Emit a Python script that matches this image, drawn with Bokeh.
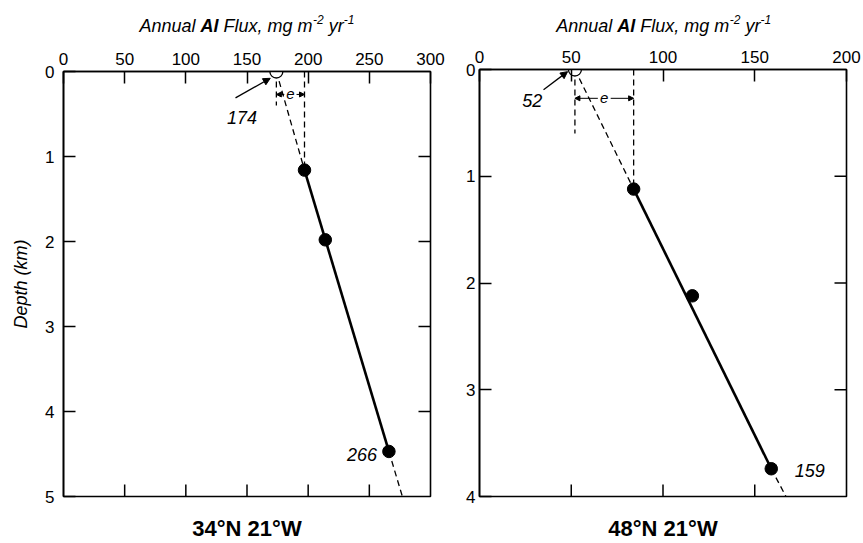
from bokeh.plotting import figure
from bokeh.models import Range1d, LinearAxis, FixedTicker, Label, Arrow, NormalHead
from bokeh.layouts import row, column
from bokeh.embed import file_html
from bokeh.resources import INLINE

# ---------------- data ----------------
# Station 1: 34°N 21°W
s1_name = "34°N 21°W"
s1_surface_flux = 174          # open circle, depth 0
s1_trap_depth = [1.16, 1.98, 4.47]
s1_trap_flux = [197, 214, 266]
s1_fit_depth = [0.0, 1.16, 4.47, 5.0]
s1_fit_flux = [174, 197, 266, 277]
s1_x_ticks = [0, 50, 100, 150, 200, 250, 300]
s1_y_ticks = [0, 1, 2, 3, 4, 5]
s1_surface_label = "174"
s1_deep_label = "266"

# Station 2: 48°N 21°W
s2_name = "48°N 21°W"
s2_surface_flux = 52
s2_trap_depth = [1.12, 2.12, 3.74]
s2_trap_flux = [84, 116, 159]
s2_fit_depth = [0.0, 1.12, 3.74, 4.0]
s2_fit_flux = [52, 84, 159, 167]
s2_x_ticks = [0, 50, 100, 150, 200]
s2_y_ticks = [0, 1, 2, 3, 4]
s2_surface_label = "52"
s2_deep_label = "159"

# "Annual Al Flux, mg m-2 yr-1" in styled pieces
title_parts = ["Annual", "Al", "Flux, mg m", "-2", "yr", "-1"]

FONT = "Liberation Sans"
TITLE_H = 40
MAIN_H = 503


def title_fig(width, border_left, frame_w, start):
    # x data units == pixels of the column (frame aligned with main figure)
    t = figure(width=width, height=TITLE_H,
               x_range=Range1d(border_left, border_left + frame_w),
               y_range=Range1d(TITLE_H, 0), x_axis_type=None, y_axis_type=None,
               output_backend="svg", toolbar_location=None,
               min_border_left=border_left, min_border_right=width - border_left - frame_w,
               min_border_top=0, min_border_bottom=0)
    t.outline_line_color = None
    t.grid.visible = False
    styles = ["italic", "bold italic", "italic", "italic", "italic", "italic"]
    sizes = ["18px", "18px", "18px", "12px", "18px", "12px"]
    advance = [61, 23, 89.5, 15.7, 15, 10.7]   # text width + following space
    raise_px = [0, 0, 0, 6, 0, 6]
    x = start
    for txt, st, sz, w, r in zip(title_parts, styles, sizes, advance, raise_px):
        t.add_layout(Label(x=x, y=25 - r, text=txt, text_font=FONT, text_font_style=st,
                           text_font_size=sz, text_color="black",
                           text_align="left", text_baseline="alphabetic"))
        x += w
    return t


def build(name, surface_flux, trap_depth, trap_flux, fit_depth, fit_flux,
          x_ticks, y_ticks, surface_label, deep_label,
          width, border_left, border_top, frame_w, frame_h,
          ylabel, surf_lab, surf_arrow, deep_lab, short_vert, e_gap):
    xmax = x_ticks[-1]
    ymax = y_ticks[-1]
    p = figure(width=width, height=MAIN_H,
               x_range=Range1d(0, xmax), y_range=Range1d(ymax, 0),
               x_axis_location="above", y_axis_location="left",
               output_backend="svg", toolbar_location=None,
               min_border_left=border_left, min_border_right=width - border_left - frame_w,
               min_border_top=border_top,
               min_border_bottom=MAIN_H - border_top - frame_h)
    p.grid.visible = False
    p.outline_line_color = "black"
    p.outline_line_width = 1.6

    for ax in (p.xaxis[0], p.yaxis[0]):
        ax.major_tick_in = 12
        ax.major_tick_out = 0
        ax.minor_tick_in = 0
        ax.minor_tick_out = 0
        ax.axis_line_color = "black"
        ax.axis_line_width = 1.6
        ax.major_tick_line_color = "black"
        ax.major_tick_line_width = 1.5
        ax.major_label_text_font = FONT
        ax.major_label_text_color = "black"
        ax.major_label_text_font_size = "17px"
    p.xaxis.ticker = FixedTicker(ticks=x_ticks)
    p.yaxis.ticker = FixedTicker(ticks=y_ticks)
    p.xaxis.major_label_standoff = 7
    p.yaxis.major_label_standoff = 9 if ylabel else 4
    if ylabel:
        p.yaxis.axis_label = ylabel
        p.yaxis.axis_label_text_font = FONT
        p.yaxis.axis_label_text_font_style = "italic"
        p.yaxis.axis_label_text_font_size = "18px"
        p.yaxis.axis_label_text_color = "black"
        p.yaxis.axis_label_standoff = 11

    bottom = LinearAxis(ticker=FixedTicker(ticks=[]))
    bottom.axis_line_color = None
    bottom.major_tick_in = 0
    bottom.major_tick_out = 0
    bottom.minor_tick_in = 0
    bottom.minor_tick_out = 0
    bottom.major_label_standoff = 0
    bottom.axis_label = name
    bottom.axis_label_text_font = FONT
    bottom.axis_label_text_font_style = "bold"
    bottom.axis_label_text_font_size = "22px"
    bottom.axis_label_text_color = "black"
    bottom.axis_label_standoff = 19
    p.add_layout(bottom, "below")

    # inward ticks on bottom and right edges (12 px long)
    tick_dy = 12 * ymax / frame_h
    tick_dx = 12 * xmax / frame_w
    bx = x_ticks[1:-1]
    p.segment(x0=bx, y0=[ymax] * len(bx), x1=bx, y1=[ymax - tick_dy] * len(bx),
              line_color="black", line_width=1.5)
    ry = y_ticks[1:-1]
    p.segment(x0=[xmax] * len(ry), y0=ry, x1=[xmax - tick_dx] * len(ry), y1=ry,
              line_color="black", line_width=1.5)

    # fitted line: dashed extrapolations, solid between traps
    p.line(fit_flux[0:2], fit_depth[0:2], line_color="black", line_width=1.3, line_dash="6 4")
    p.line(fit_flux[2:4], fit_depth[2:4], line_color="black", line_width=1.3, line_dash="6 4")
    p.line(fit_flux[1:3], fit_depth[1:3], line_color="black", line_width=2.6)

    # construction of e
    p.line([trap_flux[0], trap_flux[0]], [0, trap_depth[0]], line_color="black",
           line_width=1.3, line_dash="6 4")
    p.line([surface_flux, surface_flux], [0, short_vert], line_color="black",
           line_width=1.3, line_dash="6 4")
    mid = (surface_flux + trap_flux[0]) / 2
    e_depth = 0.27
    p.add_layout(Arrow(x_start=mid - e_gap, y_start=e_depth, x_end=surface_flux, y_end=e_depth,
                       end=NormalHead(size=5, fill_color="black", line_color="black"),
                       line_color="black", line_width=1))
    p.add_layout(Arrow(x_start=mid + e_gap, y_start=e_depth, x_end=trap_flux[0], y_end=e_depth,
                       end=NormalHead(size=5, fill_color="black", line_color="black"),
                       line_color="black", line_width=1))
    p.add_layout(Label(x=mid, y=e_depth, text="e", text_font=FONT, text_font_style="italic",
                       text_font_size="15px", text_color="black",
                       text_align="center", text_baseline="middle"))

    # points
    p.scatter(trap_flux, trap_depth, marker="circle", size=12.5,
              fill_color="black", line_color="black")
    p.scatter([surface_flux], [0], marker="circle", size=13,
              fill_color="white", line_color="black", line_width=1.3)

    # annotations
    p.add_layout(Label(x=surf_lab[0], y=surf_lab[1], text=surface_label, text_font=FONT,
                       text_font_style="italic", text_font_size="18px", text_color="black",
                       text_align="center", text_baseline="middle"))
    p.add_layout(Arrow(x_start=surf_arrow[0], y_start=surf_arrow[1],
                       x_end=surf_arrow[2], y_end=surf_arrow[3],
                       end=NormalHead(size=7, fill_color="black", line_color="black"),
                       line_color="black", line_width=1.3))
    p.add_layout(Label(x=deep_lab[0], y=deep_lab[1], text=deep_label, text_font=FONT,
                       text_font_style="italic", text_font_size="18px", text_color="black",
                       text_align="center", text_baseline="middle"))
    return p


p1 = build(s1_name, s1_surface_flux, s1_trap_depth, s1_trap_flux, s1_fit_depth, s1_fit_flux,
           s1_x_ticks, s1_y_ticks, s1_surface_label, s1_deep_label,
           width=448, border_left=63, border_top=71 - TITLE_H, frame_w=367, frame_h=425,
           ylabel="Depth (km)",
           surf_lab=(146, 0.54), surf_arrow=(140.6, 0.31, 169, 0.08),
           deep_lab=(244, 4.51), short_vert=0.4, e_gap=5.0)
p2 = build(s2_name, s2_surface_flux, s2_trap_depth, s2_trap_flux, s2_fit_depth, s2_fit_flux,
           s2_x_ticks, s2_y_ticks, s2_surface_label, s2_deep_label,
           width=415, border_left=31, border_top=69 - TITLE_H, frame_w=367, frame_h=427,
           ylabel=None,
           surf_lab=(28.7, 0.29), surf_arrow=(34.9, 0.19, 48, 0.02),
           deep_lab=(180, 3.76), short_vert=0.6, e_gap=3.5)

t1 = title_fig(448, 63, 367, 139)
t2 = title_fig(415, 31, 367, 107.7)

layout = row(column(t1, p1), column(t2, p2))
open("out.html", "w").write(file_html(layout, INLINE))
